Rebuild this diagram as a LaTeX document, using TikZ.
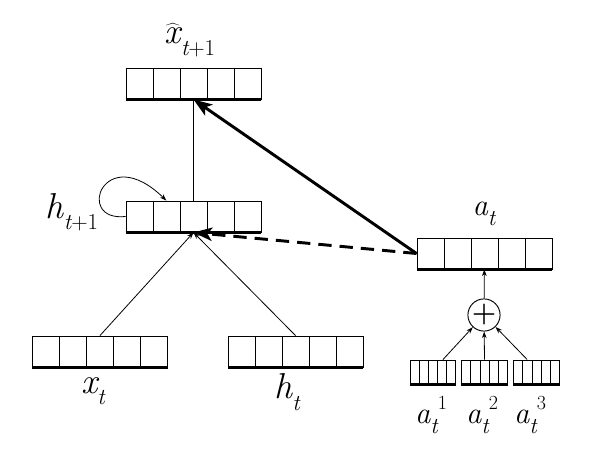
\documentclass[tikz,border=0pt]{standalone}
\usepackage{fontspec}
\usetikzlibrary{calc,arrows.meta}
\newcommand\biglab{\fontsize{27}{30}\selectfont}
\newcommand\smalllab{\fontsize{23}{27}\selectfont}
\newcommand\lowsub[1]{\raisebox{-0.32em}{\fontsize{17}{17}\selectfont #1}}
\newcommand\highsup[1]{\raisebox{0.45em}{\fontsize{15}{15}\selectfont #1}}
\tikzset{
  vecbox/.style={draw, line width=0.7pt, inner sep=0pt, minimum height=23.25pt,
    path picture={
      \foreach \k in {1,...,4}{
        \draw[line width=0.7pt]
          ($(path picture bounding box.south west)!{\k*0.2}!(path picture bounding box.south east)$) --
          ($(path picture bounding box.north west)!{\k*0.2}!(path picture bounding box.north east)$);
      }}},
  bigvec/.style={vecbox, minimum width=101.25pt},
  smallvec/.style={vecbox, minimum width=34pt, minimum height=18pt},
  thinarrow/.style={line width=0.6pt, -{Stealth[length=5pt,width=3.5pt]}},
  thickarrow/.style={line width=2.2pt, -{Stealth[length=14pt,width=10pt,inset=3.5pt]}},
  lab/.style={inner sep=0pt, font=\biglab},
  slab/.style={inner sep=0pt, font=\smalllab},
}
\begin{document}
\begin{tikzpicture}[x=0.75pt,y=-0.75pt]
\useasboundingbox (0,0) rectangle (599,472);
% vectors
\node[bigvec] (xhat) at (193.5,83.5) {};
\node[bigvec] (ht1) at (193.5,216.5) {};
\node[bigvec] (xt) at (100,351.5) {};
\node[bigvec] (ht) at (295.5,351.5) {};
\node[bigvec] (at) at (484.5,253.5) {};
\node[smallvec] (a1) at (433,372) {};
\node[smallvec] (a2) at (484.5,372) {};
\node[smallvec] (a3) at (536.5,372) {};
\foreach \n in {xhat,ht1,xt,ht,at,a1,a2,a3}
  \draw[line width=1.6pt] (\n.south west) -- (\n.south east);
% sum
\node[draw, circle, line width=0.7pt, minimum size=18.75pt, inner sep=0pt] (plus) at (484,315)
  {\fontsize{21}{21}\selectfont\bfseries +};
% labels
\node[lab] (lxhat) at (190,40) {$\widehat{\hbox{\biglab\itshape x}}$\lowsub{\itshape t\upshape +1}};
\node[lab] (lht1) at (72,212) {\itshape h\lowsub{t\upshape +1}};
\node[lab] (lxt) at (93,391) {\itshape x\lowsub{t}};
\node[lab] (lht) at (287,392) {\itshape h\lowsub{t}};
\node[slab] (lat) at (484,214) {\itshape a\lowsub{t}};
\node[slab] (la1) at (431,415) {\itshape a\lowsub{t}\highsup{\upshape 1}};
\node[slab] (la2) at (482,415) {\itshape a\lowsub{t}\highsup{\upshape 2}};
\node[slab] (la3) at (530,415) {\itshape a\lowsub{t}\highsup{\upshape 3}};
% connectors
\coordinate (atin) at ($(at.north west)!0.5!(at.south west)$);
\draw[thinarrow] (xt.north) -- (ht1.south);
\draw[thinarrow] (ht.north) -- (ht1.south);
\draw[line width=0.6pt] (ht1.north) -- (xhat.south);
\coordinate (loopend) at ($(ht1.north west)!0.3!(ht1.north east)$);
\draw[thinarrow] (ht1.west) .. controls (74,222) and (104,140) .. (loopend);
\draw[thickarrow] (atin) -- (xhat.south);
\draw[thickarrow, dash pattern=on 10pt off 6pt] (atin) -- (ht1.south);
\draw[thinarrow] ([xshift=7.5pt]a1.north) -- (plus);
\draw[thinarrow] (a2.north) -- (plus);
\draw[thinarrow] ([xshift=-7pt]a3.north) -- (plus);
\draw[thinarrow] (plus) -- (at);
\end{tikzpicture}
\end{document}
